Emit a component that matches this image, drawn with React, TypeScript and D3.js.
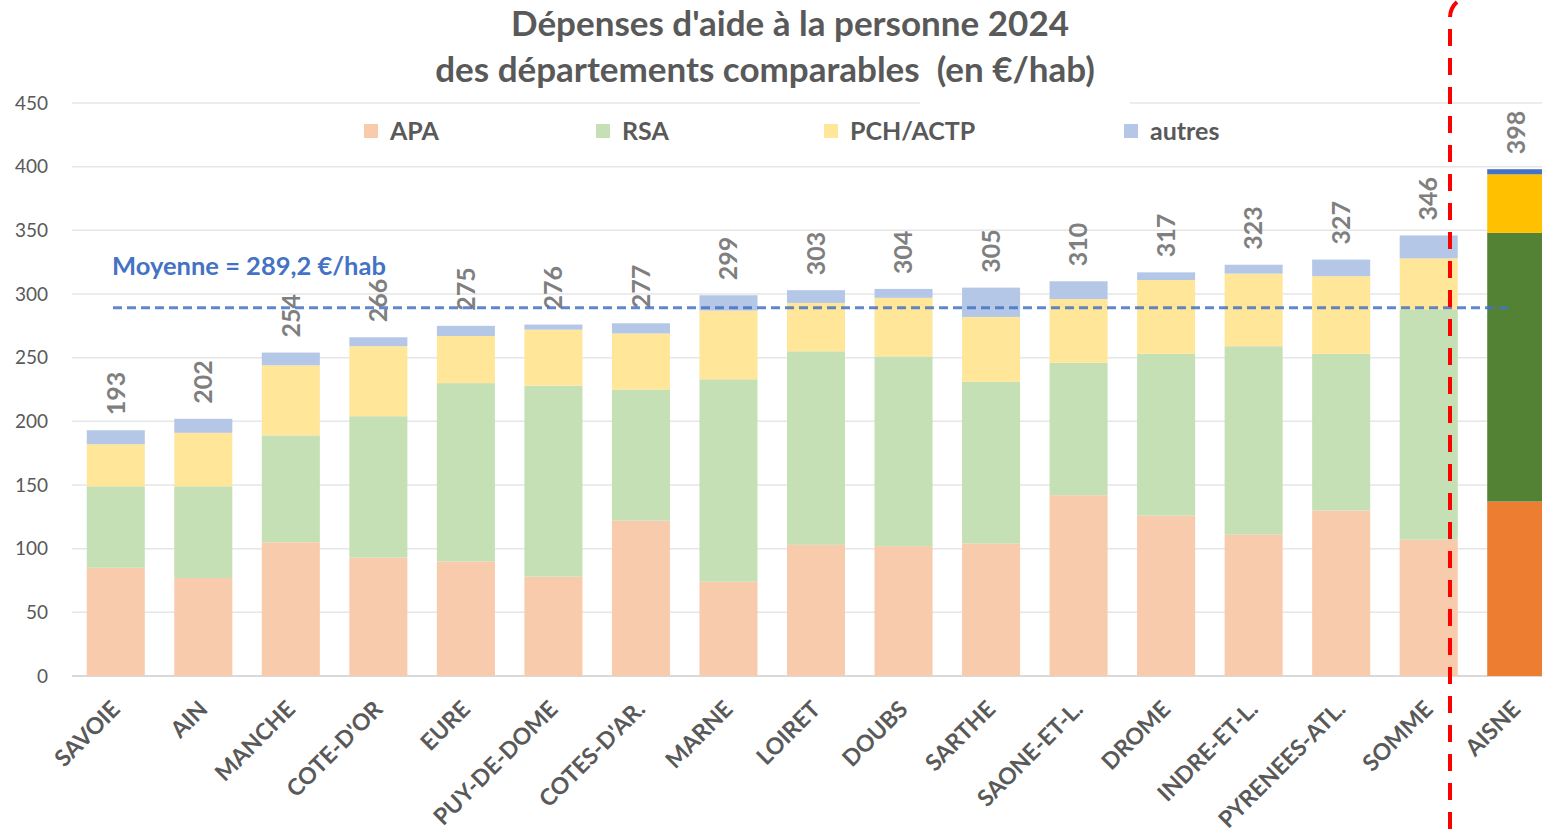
import * as d3 from 'd3';

const categories = [
  'SAVOIE', 'AIN', 'MANCHE', "COTE-D'OR", 'EURE', 'PUY-DE-DOME', "COTES-D'AR.", 'MARNE',
  'LOIRET', 'DOUBS', 'SARTHE', 'SAONE-ET-L.', 'DROME', 'INDRE-ET-L.', 'PYRENEES-ATL.', 'SOMME', 'AISNE',
];
const apa = [85, 77, 105, 93, 90, 78, 122, 74, 103, 102, 104, 142, 126, 111, 130, 107, 137];
const rsa = [64, 72, 84, 111, 140, 150, 103, 159, 152, 149, 127, 104, 127, 148, 123, 181, 211];
const pch = [33, 42, 55, 55, 37, 44, 44, 54, 38, 46, 51, 50, 58, 57, 61, 40, 46];
const autres = [11, 11, 10, 7, 8, 4, 8, 12, 10, 7, 23, 14, 6, 7, 13, 18, 4];

const seriesKeys = ['APA', 'RSA', 'PCH/ACTP', 'autres'];
const paleColors = ['#F8CBAD', '#C5E0B4', '#FFE699', '#B4C7E7'];
const strongColors = ['#ED7D31', '#548235', '#FFC000', '#4472C4'];
const highlight = 'AISNE';
const moyenne = 289.2;
const yTicks = [0, 50, 100, 150, 200, 250, 300, 350, 400, 450];

const W = 1542;
const H = 836;
const FONT = 'Lato, "Open Sans", sans-serif';
const GREY = '#595959';

export default function App() {
  const rows = categories.map((c, i) => ({
    cat: c,
    APA: apa[i],
    RSA: rsa[i],
    'PCH/ACTP': pch[i],
    autres: autres[i],
  }));
  const stacked = d3.stack<any>().keys(seriesKeys)(rows);

  const x = d3.scaleBand().domain(categories).range([72, 1560]).paddingInner(0.337).paddingOuter(0.1686);
  const y = d3.scaleLinear().domain([0, 450]).range([676, 103]);
  const totals = rows.map(r => seriesKeys.reduce((s, k) => s + (r as any)[k], 0));

  const legendX = [364, 596, 824, 1124];

  return (
    <svg width={W} height={H} style={{ position: 'absolute', left: 0, top: 0, background: '#fff' }} fontFamily={FONT}>
      {/* gridlines */}
      {yTicks.map(t => (
        <line key={t} x1={72} x2={W} y1={y(t)} y2={y(t)} stroke={t === 0 ? '#d9d9d9' : '#e6e6e6'} strokeWidth={t === 0 ? 2 : 1.5} />
      ))}
      {yTicks.map(t => (
        <text key={'l' + t} x={48} y={y(t)} dy="0.35em" textAnchor="end" fontSize={19} fill={GREY}>{t}</text>
      ))}

      {/* title */}
      <rect x={920} y={48} width={210} height={60} fill="#fff" />
      <text x={790} y={36} textAnchor="middle" fontSize={35} fontWeight="bold" fill={GREY}>
        Dépenses d'aide à la personne 2024
      </text>
      <text x={765} y={82} textAnchor="middle" fontSize={35} fontWeight="bold" fill={GREY} xmlSpace="preserve">
        des départements comparables  (en €/hab)
      </text>

      {/* legend */}
      {seriesKeys.map((k, i) => (
        <g key={k} transform={`translate(${legendX[i]},131)`}>
          <rect x={0} y={-7} width={14} height={14} fill={paleColors[i]} />
          <text x={26} y={0} dy="0.35em" fontSize={25} fontWeight="bold" fill={GREY}>{k}</text>
        </g>
      ))}

      {/* bars */}
      {stacked.map((s, si) => (
        <g key={s.key}>
          {s.map((d, i) => (
            <rect
              key={categories[i]}
              x={x(categories[i])}
              width={x.bandwidth()}
              y={y(d[1])}
              height={y(d[0]) - y(d[1])}
              fill={categories[i] === highlight ? strongColors[si] : paleColors[si]}
            />
          ))}
        </g>
      ))}

      {/* totals */}
      {categories.map((c, i) => (
        <text
          key={'t' + c}
          transform={`translate(${x(c)! + x.bandwidth() / 2},${y(totals[i]) - 15}) rotate(-90)`}
          dy="0.35em"
          fontSize={25}
          fontWeight="bold"
          fill="#7f7f7f"
        >
          {totals[i]}
        </text>
      ))}

      {/* x labels */}
      {categories.map(c => (
        <text
          key={'x' + c}
          transform={`translate(${x(c)! + x.bandwidth() / 2},${705}) rotate(-45)`}
          textAnchor="end"
          dy="0.35em"
          fontSize={23}
          fontWeight="bold"
          fill={GREY}
        >
          {c}
        </text>
      ))}

      {/* average */}
      <line x1={113} x2={1511} y1={y(moyenne)} y2={y(moyenne)} stroke="#4472C4" strokeOpacity={0.85} strokeWidth={3} strokeDasharray="9 5" />
      <text x={112} y={266} dy="0.35em" fontSize={25.5} fontWeight="bold" fill="#4472C4">
        Moyenne = 289,2 €/hab
      </text>

      {/* red separator */}
      <path d="M1457,2 Q1450,8 1450,18 L1450,836" fill="none" stroke="#FF0000" strokeWidth={4} strokeDasharray="17 12" />
    </svg>
  );
}
